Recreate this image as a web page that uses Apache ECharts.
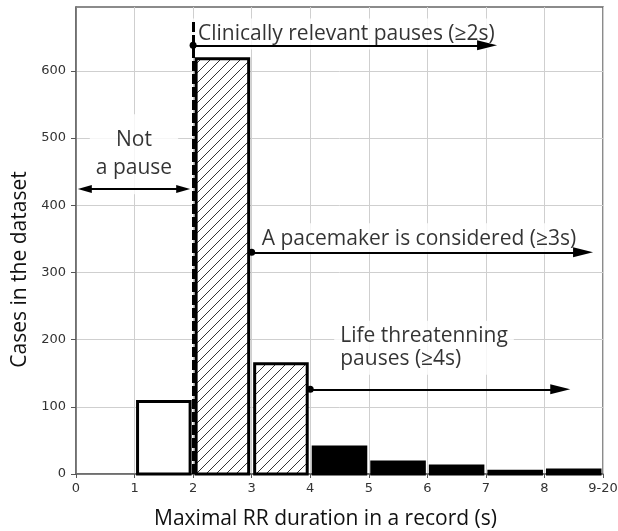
<!DOCTYPE html>
<html>
<head>
<meta charset="utf-8">
<script src="https://cdn.jsdelivr.net/npm/echarts@6/dist/echarts.min.js"></script>
<style>
html,body{margin:0;padding:0;background:#fff;}
#chart{width:618px;height:531px;}
</style>
</head>
<body>
<div id="chart"></div>
<script>
// ---- data ----
const binStarts = [1, 2, 3, 4, 5, 6, 7, 8];
const binEnds   = [2, 3, 4, 5, 6, 7, 8, 9];
const counts    = [108, 618, 164, 40, 18, 12, 4, 6];
const xTickLabels = ['0', '1', '2', '3', '4', '5', '6', '7', '8', '9-20'];
const yTickValues = [0, 100, 200, 300, 400, 500, 600];

// annotation texts and anchor points (data units)
const annotTexts = ['Clinically relevant pauses (\u22652s)', 'Not\na pause', 'A pacemaker is considered (\u22653s)', 'Life threatenning\npauses (\u22654s)'];
const annotX = [1.98, 0.99, 3.07, 4.41];
const annotY = [655, 476, 350, 188];
// arrows: [xStart, xEnd, y]
const arrowXStart = [2, 3, 4];
const arrowXEnd = [7.02, 8.66, 8.27];
const arrowY = [638, 330, 126];
const notPauseArrow = [0.15, 1.83, 424];
const thresholdLine = [2, 0, 676];

// ---- hatch pattern ----
const hc = document.createElement('canvas');
hc.width = 10; hc.height = 10;
const hctx = hc.getContext('2d');
hctx.fillStyle = '#fff'; hctx.fillRect(0, 0, 10, 10);
hctx.strokeStyle = '#333'; hctx.lineWidth = 1;
hctx.beginPath();
hctx.moveTo(-2, 12); hctx.lineTo(12, -2);
hctx.moveTo(-7, 7); hctx.lineTo(7, -7);
hctx.moveTo(3, 17); hctx.lineTo(17, 3);
hctx.stroke();
const hatch = { image: hc, repeat: 'repeat' };

const barData = binStarts.map((s, i) => [s, binEnds[i], counts[i]]);

const arrowLines = arrowXStart.map((s, i) => [
  { coord: [s, arrowY[i]], symbol: 'circle', symbolSize: 7 },
  { coord: [arrowXEnd[i], arrowY[i]], symbol: 'triangle', symbolSize: [10, 20] }
]);
arrowLines.push([
  { coord: [notPauseArrow[0], notPauseArrow[2]], symbol: 'triangle', symbolSize: [8, 14] },
  { coord: [notPauseArrow[1], notPauseArrow[2]], symbol: 'triangle', symbolSize: [8, 14] }
]);
arrowLines.push([
  { coord: [thresholdLine[0], thresholdLine[1]], symbol: 'none', lineStyle: { width: 3, type: [10, 3] } },
  { coord: [thresholdLine[0], thresholdLine[2]], symbol: 'none' }
]);

const annotFont = 'Open Sans';
const annotData = annotTexts.map((t, i) => {
  const centered = (i === 1);
  return {
    value: [annotX[i], annotY[i]],
    label: {
      show: true,
      formatter: t,
      position: [0, 0],
      align: centered ? 'center' : 'left',
      verticalAlign: 'middle',
      fontFamily: annotFont,
      fontSize: 21,
      color: '#000',
      lineHeight: centered ? 28 : 23,
      backgroundColor: '#fff',
      padding: centered ? [12, 6, 12, 6] : [4, 6, 4, 6]
    }
  };
});

const chart = echarts.init(document.getElementById('chart'), null, { renderer: 'canvas' });
chart.setOption({
  animation: false,
  backgroundColor: '#fff',
  grid: { left: 76, right: 15, top: 7, bottom: 57, containLabel: false, outerBoundsMode: 'none', show: true, borderColor: '#666', borderWidth: 1.5, backgroundColor: 'transparent' },
  xAxis: {
    type: 'value', min: 0, max: 9, interval: 1,
    name: 'Maximal RR duration in a record (s)', nameLocation: 'middle', nameGap: 35,
    nameTextStyle: { fontFamily: annotFont, fontSize: 21, color: '#111', padding: [0, 28, 0, 0] },
    axisLine: { show: true, lineStyle: { color: '#666', width: 1.5 } },
    axisTick: { show: true, length: 4, lineStyle: { color: '#555' } },
    axisLabel: { margin: 8, fontFamily: 'DejaVu Sans', fontSize: 13, color: '#333', formatter: v => xTickLabels[v] },
    splitLine: { show: true, lineStyle: { color: '#cfcfcf', width: 1 } }
  },
  yAxis: {
    type: 'value', min: 0, max: 695, interval: 100,
    name: 'Cases in the dataset', nameLocation: 'middle', nameGap: 43,
    nameTextStyle: { fontFamily: annotFont, fontSize: 21, color: '#111', padding: [0, 58, 0, 0] },
    axisLine: { show: true, lineStyle: { color: '#666', width: 1.5 } },
    axisTick: { show: true, length: 5, customValues: yTickValues, lineStyle: { color: '#555' } },
    axisLabel: { margin: 10, fontFamily: 'DejaVu Sans', fontSize: 13, color: '#333', customValues: yTickValues },
    splitLine: { show: true, lineStyle: { color: '#cfcfcf', width: 1 } }
  },
  series: [
    {
      type: 'scatter', z: 2, symbolSize: 0, silent: true,
      data: annotData
    },
    {
      type: 'custom', z: 3, silent: true,
      data: barData,
      encode: { x: [0, 1], y: 2 },
      renderItem: function (params, api) {
        const x0 = api.value(0), x1 = api.value(1), v = api.value(2);
        const p0 = api.coord([x0, 0]);
        const p1 = api.coord([x1, v]);
        const inset = 3;
        let fill = '#000';
        if (x0 < 2) fill = '#fff';
        else if (x0 < 4) fill = hatch;
        return {
          type: 'rect',
          shape: { x: p0[0] + inset, y: p1[1], width: p1[0] - p0[0] - 2 * inset, height: p0[1] - p1[1] },
          style: { fill: fill, stroke: '#000', lineWidth: 3 }
        };
      },
      markLine: {
        silent: true, animation: false,
        label: { show: false },
        lineStyle: { color: '#000', width: 2, type: 'solid' },
        itemStyle: { color: '#000' },
        emphasis: { disabled: true },
        data: arrowLines
      }
    }
  ]
});
</script>
</body>
</html>
